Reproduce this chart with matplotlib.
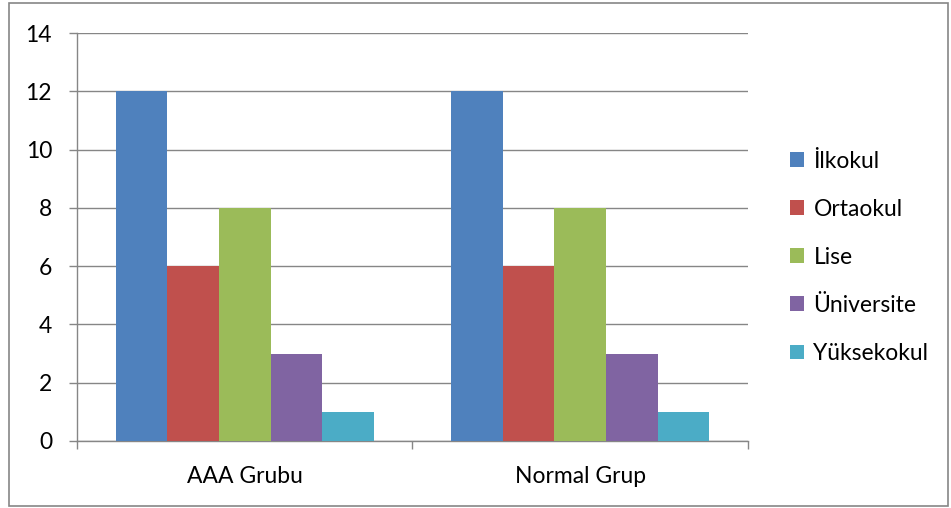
import matplotlib.pyplot as plt
from matplotlib.patches import Rectangle
import numpy as np

groups = ["AAA Grubu", "Normal Grup"]
levels = ["İlkokul", "Ortaokul", "Lise", "Üniversite", "Yüksekokul"]
counts = {
    "İlkokul": [12, 12],
    "Ortaokul": [6, 6],
    "Lise": [8, 8],
    "Üniversite": [3, 3],
    "Yüksekokul": [1, 1],
}
colors = ["#4F81BD", "#C0504D", "#9BBB59", "#8064A2", "#4BACC6"]

plt.rcParams['font.family'] = ['Lato', 'DejaVu Sans']
grid_c = "#868686"
fs = 16.5

fig = plt.figure(figsize=(9.51, 5.08), dpi=100)
ax = fig.add_axes([0.081, 0.132, 0.7055, 0.803])

x = np.arange(len(groups))
w = 0.154
for k, lvl in enumerate(levels):
    ax.bar(x + (k - 2) * w, counts[lvl], width=w, color=colors[k],
           label=lvl, zorder=3)

ax.set_xlim(-0.5, 1.5)
ax.set_ylim(0, 14)
ax.set_yticks(range(0, 15, 2))
ax.yaxis.grid(True, color=grid_c, lw=1, zorder=0)

ax.set_xticks(x)
ax.set_xticklabels(groups)
ax.set_xticks([-0.5, 0.5, 1.5], minor=True)
ax.tick_params(axis='x', which='major', length=0, pad=18, labelsize=fs)
ax.tick_params(axis='x', which='minor', length=6, color=grid_c, width=1)
ax.tick_params(axis='y', length=6, color=grid_c, width=1, pad=12, labelsize=fs)

for side in ["top", "right"]:
    ax.spines[side].set_visible(False)
for side in ["left", "bottom"]:
    ax.spines[side].set_color(grid_c)
    ax.spines[side].set_linewidth(1)

leg = ax.legend(loc="center left", bbox_to_anchor=(1.046, 0.45), frameon=False,
                fontsize=fs, handlelength=0.61, handleheight=0.61, borderpad=0,
                handletextpad=0.4, labelspacing=1.18)

fig.patches.append(Rectangle((0.009, 0.004), 0.988, 0.99, transform=fig.transFigure,
                             fill=False, edgecolor=grid_c, lw=1.2))

fig.savefig("out.png", dpi=100)
